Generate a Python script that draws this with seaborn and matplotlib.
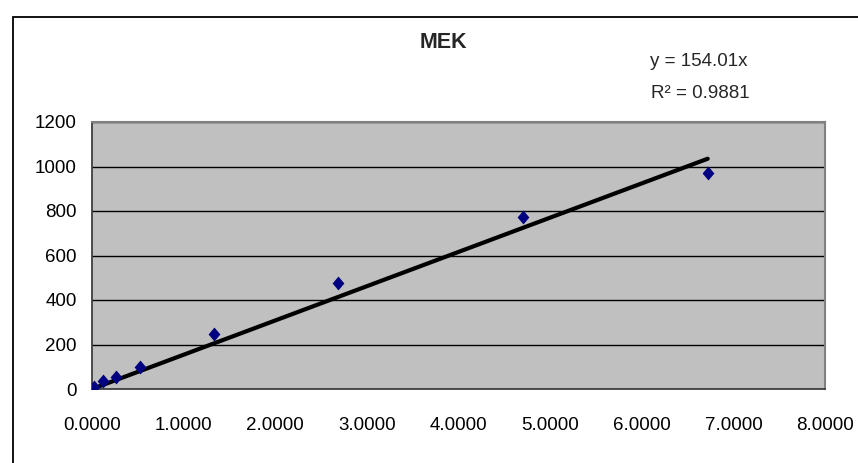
import numpy as np
import pandas as pd
import matplotlib
matplotlib.use("Agg")
import matplotlib.pyplot as plt
import seaborn as sns
from matplotlib.patches import Rectangle
from matplotlib.path import Path

# Calibration data for MEK
title = "MEK"
concentration = [0.025, 0.124, 0.262, 0.524, 1.334, 2.68, 4.70, 6.72]
response = [8, 34, 52, 101, 245, 478, 772, 972]

# Linear trendline through the origin
slope = 154.01
r_squared = 0.9881

x_ticks = [0, 1, 2, 3, 4, 5, 6, 7, 8]
y_ticks = [0, 200, 400, 600, 800, 1000, 1200]

sns.set_theme(style="white")
plt.rcParams["font.family"] = ["Liberation Sans", "DejaVu Sans"]

W, H = 858, 463
fig = plt.figure(figsize=(W / 100, H / 100), dpi=100)
fig.patch.set_facecolor("white")

# outer chart frame
fig.patches.append(Rectangle((13 / W, -0.1), 1.2, 1.1 - 17 / H,
                             transform=fig.transFigure, fill=False,
                             edgecolor="black", linewidth=1.3))

left, right, top, bottom = 92, 825, 122, 389
ax = fig.add_axes([left / W, 1 - bottom / H, (right - left) / W, (bottom - top) / H])
ax.set_facecolor("#C0C0C0")

df = pd.DataFrame({"conc": concentration, "resp": response})
line_x = np.array([min(concentration), max(concentration)])
trend = pd.DataFrame({"conc": line_x, "resp": slope * line_x})

# slightly narrow diamond marker
diamond = Path([(0, 1), (0.85, 0), (0, -1), (-0.85, 0), (0, 1)],
               [Path.MOVETO, Path.LINETO, Path.LINETO, Path.LINETO, Path.CLOSEPOLY])

sns.lineplot(data=trend, x="conc", y="resp", color="black", linewidth=3.0,
             ax=ax, zorder=3)
sns.scatterplot(data=df, x="conc", y="resp", marker=diamond, s=100,
                color="#000080", edgecolor="#000080", linewidth=0,
                ax=ax, zorder=4)

ax.set_xlim(x_ticks[0], x_ticks[-1])
ax.set_ylim(y_ticks[0], y_ticks[-1])
ax.set_xticks(x_ticks)
ax.set_xticklabels([f"{v:.4f}" for v in x_ticks])
ax.set_yticks(y_ticks)
ax.set_yticklabels([str(v) for v in y_ticks])
ax.set_xlabel("")
ax.set_ylabel("")

ax.yaxis.grid(True, color="black", linewidth=1.0)
ax.xaxis.grid(False)
ax.set_axisbelow(True)

for side in ("left", "bottom"):
    ax.spines[side].set_color("#404040")
    ax.spines[side].set_linewidth(1.3)
for side in ("top", "right"):
    ax.spines[side].set_color("#808080")
    ax.spines[side].set_linewidth(1.5)

ax.tick_params(axis="both", direction="out", length=5, width=1,
               color="#404040", labelsize=13.5, labelcolor="black")
ax.tick_params(axis="x", pad=15)
ax.tick_params(axis="y", pad=6)

fig.text(443 / W, 1 - 42 / H, title, ha="center", va="center",
         fontsize=15.5, fontweight="bold")
fig.text(650 / W, 1 - 62 / H, f"y = {slope:.2f}x", ha="left", va="center",
         fontsize=13.5)
fig.text(651 / W, 1 - 93 / H, f"R\u00b2 = {r_squared:.4f}", ha="left",
         va="center", fontsize=13.5)

fig.savefig("out.png", dpi=100)
